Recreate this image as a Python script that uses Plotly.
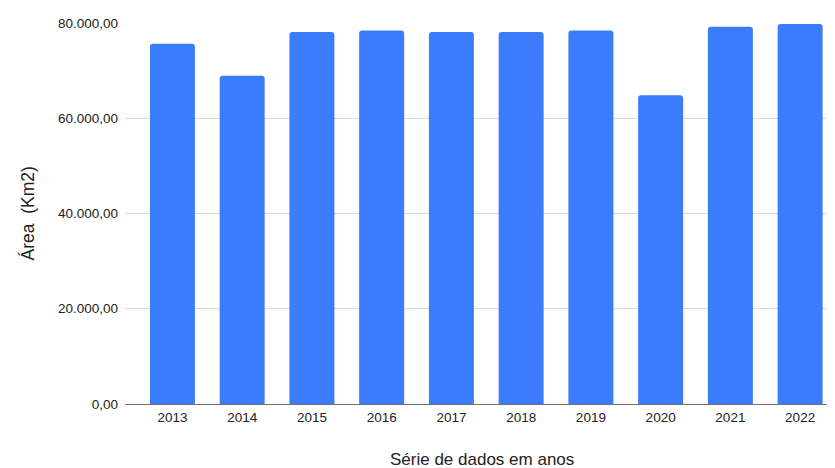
import plotly.graph_objects as go

years = ["2013", "2014", "2015", "2016", "2017", "2018", "2019", "2020", "2021", "2022"]
area_km2 = [75650, 68900, 78100, 78400, 78100, 78100, 78400, 64850, 79200, 79800]
y_ticks = [0, 20000, 40000, 60000, 80000]
y_tick_labels = ["0,00", "20.000,00", "40.000,00", "60.000,00", "80.000,00"]

FONT = "Liberation Sans, Arial, sans-serif"

fig = go.Figure(
    go.Bar(
        x=years,
        y=area_km2,
        marker=dict(color="#3b7cfb", line=dict(width=0), cornerradius=3),
        hoverinfo="x+y",
    )
)

fig.update_layout(
    width=835,
    height=468,
    margin=dict(l=117, r=8, t=15, b=72),
    paper_bgcolor="white",
    plot_bgcolor="white",
    bargap=0.355,
    showlegend=False,
    font=dict(family=FONT, size=13.5, color="#222222"),
    xaxis=dict(
        type="category",
        range=[-0.68, 9.5],
        showgrid=False,
        showline=True,
        linecolor="#707070",
        linewidth=1,
        ticks="",
        tickfont=dict(size=13.5, color="#222222"),
        ticklabelstandoff=1,
        fixedrange=True,
    ),
    yaxis=dict(
        range=[0, 80000],
        tickvals=y_ticks,
        ticktext=y_tick_labels,
        showgrid=True,
        gridcolor="#d9d9d9",
        gridwidth=1,
        zeroline=False,
        showline=False,
        ticks="",
        tickfont=dict(size=13.5, color="#222222"),
        ticklabelstandoff=6,
        fixedrange=True,
    ),
    annotations=[
        dict(
            text="Área  (Km2)",
            xref="paper",
            yref="paper",
            x=0,
            y=0.5,
            xshift=-98,
            xanchor="center",
            yanchor="middle",
            textangle=-90,
            showarrow=False,
            font=dict(size=17.5, color="#222222", family=FONT),
        ),
        dict(
            text="Série de dados em anos",
            xref="paper",
            yref="paper",
            x=0.5035,
            y=0,
            yshift=-55,
            xanchor="center",
            yanchor="middle",
            showarrow=False,
            font=dict(size=17, color="#222222", family=FONT),
        ),
    ],
)

fig.write_html("out.html")
